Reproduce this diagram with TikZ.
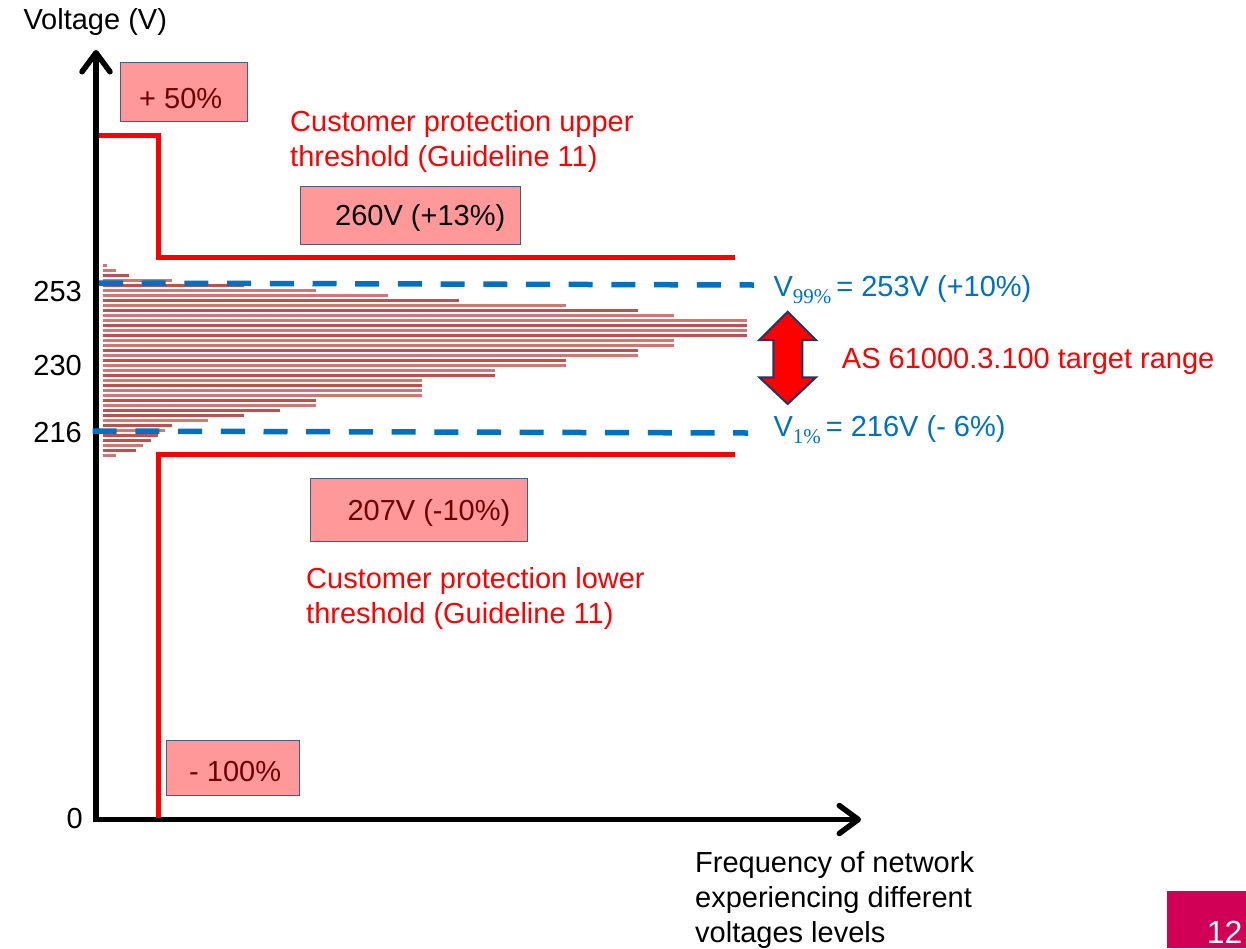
\documentclass[tikz,border=0pt]{standalone}
\usepackage{fontspec}
\setmainfont{Liberation Sans}
\newfontfamily\subfont{Liberation Serif}
\usetikzlibrary{arrows.meta}
\definecolor{tred}{RGB}{255,0,0}
\definecolor{tblue}{RGB}{0,112,192}
\definecolor{boxfill}{RGB}{255,153,153}
\definecolor{boxline}{RGB}{70,90,130}
\definecolor{darkred}{RGB}{110,0,0}
\definecolor{bardark}{RGB}{192,80,77}
\definecolor{barlight}{RGB}{210,118,115}
\definecolor{pagecol}{RGB}{209,0,86}
\definecolor{arrowline}{RGB}{31,56,100}
\begin{document}
\begin{tikzpicture}[x=1pt,y=-1pt,
  txt/.style={font=\fontsize{29}{35}\selectfont, inner sep=0pt, anchor=base west},
  pinkbox/.style={draw=boxline, line width=1pt, fill=boxfill, inner sep=0pt},
  axis/.style={line width=5.5pt, -{Straight Barb[length=19pt,width=28pt,round]}},
  thresh/.style={draw=tred, line width=5pt},
  vdash/.style={draw=tblue, line width=5.5pt, dash pattern=on 24pt off 18.7pt},
  bar/.style={line width=2.5pt}
]
\useasboundingbox (0,0) rectangle (1246,948);

% histogram
\foreach \yy/\xx/\cc in {265.7/107/barlight, 270.7/115.7/barlight, 275.7/129/bardark, 280.7/172/barlight,
  285.7/244/bardark, 290.7/316/barlight, 295.7/387.7/barlight, 300.7/458.7/bardark,
  305.7/566/barlight, 310.7/638/bardark, 315.7/674/barlight, 320.7/746.7/barlight,
  325.7/746.7/bardark, 330.7/746.7/barlight, 335.7/746.7/bardark, 340.7/674/barlight,
  345.7/674/barlight, 350.7/638/bardark, 355.7/638/barlight, 360.7/566/bardark,
  365.7/566/barlight, 370.7/494.7/barlight, 375.7/494.7/bardark, 380.7/422/barlight,
  385.7/422/bardark, 390.7/422/barlight, 395.7/422/barlight, 400.7/316/bardark,
  405.7/316/barlight, 410.7/280/bardark, 415.7/244/bardark, 420.7/208/barlight,
  425.7/172/bardark, 430.7/165/barlight, 435.7/158/bardark, 440.7/151/bardark,
  445.7/143/barlight, 450.7/136/bardark, 455.7/115.7/barlight}
  {\draw[bar, draw=\cc] (102.7,\yy) -- (\xx,\yy);}

% axes
\coordinate (O) at (96,819.5);
\coordinate (ytip) at (96,50);
\coordinate (xtip) at (861,819.5);
\draw[axis] (96,822) -- (ytip);
\draw[axis] (93,819.5) -- (xtip);

% thresholds
\draw[thresh] (99,135) -- (158,135) -- (158,257) -- (735,257);
\draw[thresh] (158,818) -- (158,454) -- (735,454);

% dashed percentile lines
\draw[vdash] (99,283) -- (754,285);
\draw[vdash] (92.7,431) -- (748,433);

% double arrow
\draw[fill=red, draw=arrowline, line width=2pt, line join=miter]
  (787.7,311.7) -- (816,340) -- (802.3,340) -- (802.3,377.3) -- (816,377.3) -- (787.7,404)
  -- (759.3,377.3) -- (773.3,377.3) -- (773.3,340) -- (759.3,340) -- cycle;

% boxes
\node[pinkbox, minimum width=127pt, minimum height=59.4pt] (b50) at (184.2,92) {};
\node[txt, text=darkred] (t50) at (139,108.3) {+ 50\%};
\node[pinkbox, minimum width=220pt, minimum height=57.6pt] (b260) at (410.7,215.5) {};
\node[txt, text=black] (t260) at (335,225) {260V (+13\%)};
\node[pinkbox, minimum width=217.3pt, minimum height=63.4pt] (b207) at (418.7,510) {};
\node[txt, text=darkred] (t207) at (347.3,520.7) {207V (-10\%)};
\node[pinkbox, minimum width=132.6pt, minimum height=55pt] (b100) at (233,767.5) {};
\node[txt, text=darkred] (t100) at (189,781.7) {- 100\%};

% axis labels
\node[txt] (ylab) at (23.3,29) {Voltage (V)};
\node[txt, anchor=base east] (l253) at (82,301) {253};
\node[txt, anchor=base east] (l230) at (82,375) {230};
\node[txt, anchor=base east] (l216) at (82,442.7) {216};
\node[txt, anchor=base east] (l0) at (83,828) {0};
\node[txt] (xl1) at (695,872) {Frequency of network};
\node[txt] (xl2) at (695,907.5) {experiencing different};
\node[txt] (xl3) at (695,942.5) {voltages levels};

% red texts
\node[txt, text=tred] (up1) at (290,131.7) {Customer protection upper};
\node[txt, text=tred] (up2) at (290,166.7) {threshold (Guideline 11)};
\node[txt, text=tred] (lo1) at (306,588.5) {Customer protection lower};
\node[txt, text=tred] (lo2) at (306,623) {threshold (Guideline 11)};
\node[txt, text=tred] (as) at (841.7,368.3) {AS 61000.3.100 target range};

% blue labels
\node[txt, text=tblue] (v99) at (773.3,296) {V\raisebox{-7pt}{\subfont\fontsize{21}{21}\selectfont 99\%}\hspace{5pt}= 253V (+10\%)};
\node[txt, text=tblue] (v1) at (773.3,436.7) {V\raisebox{-7pt}{\subfont\fontsize{21}{21}\selectfont 1\%}\hspace{5pt}= 216V (- 6\%)};

% page number
\node[fill=pagecol, minimum width=79.3pt, minimum height=57pt, inner sep=0pt] (pg) at (1206.35,919.5) {};
\node[font=\fontsize{32}{32}\selectfont, text=white, inner sep=0pt, anchor=base east] (pgn) at (1242.7,943) {12};
\end{tikzpicture}
\end{document}
